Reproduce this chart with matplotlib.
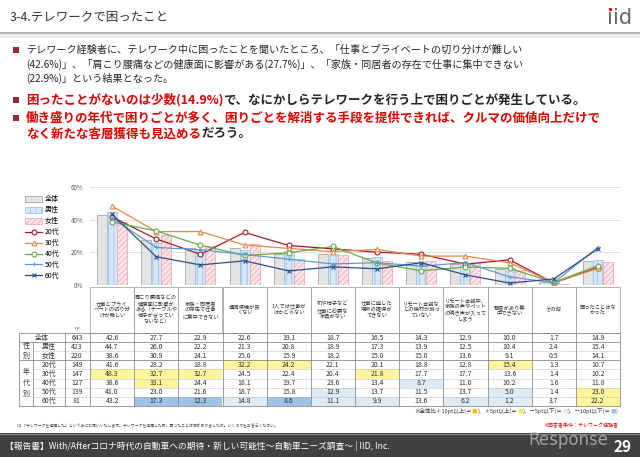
import matplotlib
matplotlib.use('Agg')
import matplotlib.pyplot as plt
from matplotlib.patches import Rectangle
import numpy as np

plt.rcParams['font.family'] = ['Noto Sans CJK JP', 'DejaVu Sans']
plt.rcParams['hatch.linewidth'] = 0.6

# ---- data ----
categories = [
    '仕事とプライ\nベートの切り分\nけが難しい',
    '肩こり腰痛などの\n健康面に影響が\nある（テーブルや\n椅子が合ってい\nないなど）',
    '家族・同居者\nの存在で仕事\nに集中できない',
    '通信環境が良\nくない',
    '1人では仕事が\nはかどらない',
    '机や椅子など\n仕事に必要な\n家具がない',
    '仕事に適した\n場所の確保が\nできない',
    'リモート会議な\nどの機材が揃っ\nていない',
    'リモート会議中、\n家族の声やペット\nの鳴き声が入って\nしまう',
    '騒音があり集\n中できない',
    'その他',
    '困ったことはな\nかった',
]
row_labels = ['全体', '男性', '女性', '20代', '30代', '40代', '50代', '60代']
n_values = [643, 423, 220, 149, 147, 127, 139, 81]

total = [42.6, 27.7, 22.9, 22.6, 19.1, 18.7, 16.5, 14.3, 12.9, 10.0, 1.7, 14.9]
male = [44.7, 26.0, 22.2, 21.3, 20.8, 18.9, 17.3, 13.9, 12.5, 10.4, 2.4, 15.4]
female = [38.6, 30.9, 24.1, 25.0, 15.9, 18.2, 15.0, 15.0, 13.6, 9.1, 0.5, 14.1]
age20 = [41.6, 28.2, 18.8, 32.2, 24.2, 22.1, 20.1, 18.8, 12.8, 15.4, 1.3, 10.7]
age30 = [48.3, 32.7, 32.7, 24.5, 22.4, 20.4, 21.8, 17.7, 17.7, 13.6, 1.4, 10.2]
age40 = [38.6, 33.1, 24.4, 18.1, 19.7, 23.6, 13.4, 8.7, 11.0, 10.2, 1.6, 11.8]
age50 = [41.0, 23.0, 21.6, 18.7, 15.8, 12.9, 13.7, 11.5, 13.7, 5.0, 1.4, 23.0]
age60 = [43.2, 17.3, 12.3, 14.8, 8.6, 11.1, 9.9, 13.6, 6.2, 1.2, 3.7, 22.2]

rows = [total, male, female, age20, age30, age40, age50, age60]

RED = '#e00000'
W, H = 640, 457

fig = plt.figure(figsize=(6.4, 4.57), dpi=100)
fig.patch.set_facecolor('white')
canvas = fig.add_axes([0, 0, 1, 1])
canvas.set_xlim(0, W)
canvas.set_ylim(H, 0)
canvas.axis('off')
renderer = fig.canvas.get_renderer()


def runs(parts, x, y, size, weight='normal', ha='left', family=None):
    # draw coloured text pieces one after another on a line
    texts = []
    for s, c in parts:
        kw = {} if family is None else {'family': family}
        t = canvas.text(0, y, s, fontsize=size, color=c, fontweight=weight,
                        va='center', ha='left', **kw)
        texts.append(t)
    widths = [t.get_window_extent(renderer).width for t in texts]
    if ha == 'right':
        x -= sum(widths)
    for t, w in zip(texts, widths):
        t.set_x(x)
        x += w
    return texts


# ---- header ----
canvas.text(10, 17, '3-4.テレワークで困ったこと', fontsize=9, color='#333333',
            va='center')
canvas.add_patch(Rectangle((0, 33.5), W, 4, color='#ececec', lw=0))
canvas.plot([0, W], [33, 33], color='#a6a6a6', lw=1.2)
logo = runs([('ı', '#666666'), ('id', '#666666')], 632, 18, 15, ha='right',
            family='DejaVu Sans')
bb = logo[0].get_window_extent(renderer)
canvas.plot(logo[0].get_position()[0] + bb.width / 2, 8.5, 'o', ms=2.4,
            color='#e00000', mew=0)

# ---- bullets ----
dark = '#262626'
for by in [50, 100, 118]:
    canvas.add_patch(Rectangle((13, by - 3), 6, 6, color='#9b2335', lw=0))

runs([('テレワーク経験者に、テレワーク中に困ったことを聞いたところ、「仕事とプライベートの切り分けが難しい', dark)],
     26, 50, 7.3)
runs([('(42.6%)」、「肩こり腰痛などの健康面に影響がある(27.7%)」、「家族・同居者の存在で仕事に集中できない', dark)],
     26, 64, 7.3)
runs([('(22.9%)」という結果となった。', dark)], 26, 78, 7.3)
runs([('困ったことがないのは少数(14.9%)', RED),
      ('で、なにかしらテレワークを行う上で困りごとが発生している。', dark)],
     26, 100, 9, weight='bold')
runs([('働き盛りの年代で困りごとが多く、困りごとを解消する手段を提供できれば、クルマの価値向上だけで', RED)],
     26, 118, 9, weight='bold')
runs([('なく新たな客層獲得も見込める', RED), ('だろう。', dark)],
     26, 134, 9, weight='bold')

# ---- chart ----
left, right, top, bottom = 90, 620, 187, 285
ax = fig.add_axes([left / W, 1 - bottom / H, (right - left) / W, (bottom - top) / H])
ax.patch.set_alpha(0)
x = np.arange(len(categories))
bw = 0.226
b1 = ax.bar(x - bw, total, bw, color='#e3e3e3', edgecolor='#a6a6a6', lw=0.6, label='全体')
b2 = ax.bar(x, male, bw, color='#d6e7f7', edgecolor='#9dc3e6', lw=0.6,
            hatch='|||', label='男性')
b3 = ax.bar(x + bw, female, bw, color='#fde6ea', edgecolor='#f4a9b6', lw=0.6,
            hatch='//////', label='女性')

line_styles = [
    ('20代', age20, '#a5182b', 'o'),
    ('30代', age30, '#e5884b', '^'),
    ('40代', age40, '#6aaa45', 'o'),
    ('50代', age50, '#5b9bd5', '+'),
    ('60代', age60, '#2e4d8a', 'x'),
]
handles = [b1, b2, b3]
for name, vals, col, mk in line_styles:
    mfc = 'white' if mk in ('o', '^') else col
    ln, = ax.plot(x, vals, color=col, lw=0.9, marker=mk, ms=3.5, mfc=mfc, mew=0.8,
                  label=name)
    handles.append(ln)

ax.set_xlim(-0.5, len(categories) - 0.5)
ax.set_ylim(0, 60)
ax.set_yticks([0, 20, 40, 60])
ax.set_yticklabels(['0%', '20%', '40%', '60%'], fontsize=4.5, color='#595959')
ax.tick_params(length=0, pad=5)
ax.set_xticks([])
ax.grid(axis='y', color='#d9d9d9', lw=0.6)
ax.set_axisbelow(True)
for s in ax.spines.values():
    s.set_visible(False)

ax.legend(handles=handles, loc='upper left', bbox_to_anchor=(22 / W, 1 - 192 / H),
          bbox_transform=fig.transFigure, frameon=False, fontsize=5,
          handlelength=2.4, handleheight=0.8, labelspacing=0.42, borderpad=0,
          handletextpad=0.4)

# ---- table ----
colw = (right - left) / len(categories)
line_c = '#8c8c8c'
for i, cat in enumerate(categories):
    xl = left + i * colw
    canvas.add_patch(Rectangle((xl, 287), colw, 46, fill=False, ec='#a6a6a6', lw=0.6))
    canvas.text(xl + colw / 2, 310, cat, fontsize=3.8, color='#333333',
                ha='center', va='center', linespacing=1.15)
canvas.text(77, 329, 'n=', fontsize=3.5, color='#595959', ha='center', va='center')

t0, rh = 333, 9.1
tl = 19
hl_colors = {'up10': '#ffc000', 'up5': '#fff59d', 'dn5': '#ddebf7', 'dn10': '#9dc3e6'}
for r, vals in enumerate(rows):
    y0 = t0 + r * rh
    cy = y0 + rh / 2
    lx = 42 if r == 0 else 49
    canvas.text(lx, cy, row_labels[r], fontsize=5, color='#333333', ha='center', va='center')
    canvas.text(77, cy, str(n_values[r]), fontsize=5, color='#333333', ha='center', va='center')
    for c, v in enumerate(vals):
        xl = left + c * colw
        if r > 0:
            d = round(v - total[c], 1)
            fc = None
            if d >= 10:
                fc = hl_colors['up10']
            elif d >= 5:
                fc = hl_colors['up5']
            elif d <= -10:
                fc = hl_colors['dn10']
            elif d <= -5:
                fc = hl_colors['dn5']
            if fc:
                canvas.add_patch(Rectangle((xl, y0), colw, rh, color=fc, lw=0))
        canvas.text(xl + colw / 2, cy, f'{v:.1f}', fontsize=5, color='#333333',
                    ha='center', va='center')

tb = t0 + len(rows) * rh
for k in [0, 1, 3, 8]:
    canvas.plot([tl, right], [t0 + k * rh] * 2, color=line_c, lw=0.6)
for k in [2, 4, 5, 6, 7]:
    canvas.plot([33, right], [t0 + k * rh] * 2, color='#a6a6a6', lw=0.5, ls=(0, (1, 1)))
canvas.plot([tl, tl], [t0, tb], color=line_c, lw=0.6)
canvas.plot([33, 33], [t0 + rh, tb], color=line_c, lw=0.6)
canvas.plot([65, 65], [t0, tb], color=line_c, lw=0.6)
for i in range(len(categories) + 1):
    xl = left + i * colw
    canvas.plot([xl, xl], [t0, tb], color=line_c, lw=0.6)
canvas.text(26, t0 + 2 * rh, '性\n別', fontsize=5, color='#333333', ha='center',
            va='center', linespacing=1.3)
canvas.text(26, t0 + 5.5 * rh, '年\n代\n別', fontsize=5, color='#333333', ha='center',
            va='center', linespacing=1.45)

# ---- notes ----
runs([('※全体比＋10pt以上(＝', '#333333'), ('■', hl_colors['up10']),
      (')、＋5pt以上(＝', '#333333'), ('■', '#ffe94d'),
      (')、－5pt以下(＝', '#333333'), ('■', hl_colors['dn5']),
      (')、－10pt以下(＝', '#333333'), ('■', hl_colors['dn10']), (')', '#333333')],
     618, 411, 4, ha='right')
canvas.text(17, 426, 'Q4.「テレワークを経験した」という方にお伺いいたします。テレワークを経験した際、困ったことは何がありましたか。いくつでもお答えください。',
            fontsize=2.8, color='#404040', va='center')
canvas.text(618, 426, '※回答者条件：テレワーク経験者', fontsize=3.6, color=RED,
            ha='right', va='center')

# ---- footer ----
canvas.add_patch(Rectangle((0, 433), W, H - 433, color='#414141', lw=0))
canvas.plot([0, W], [433.5, 433.5], color='#8a8a8a', lw=0.8)
canvas.text(528, 440, 'Response', fontsize=12, color='#c8c8c8', alpha=0.7,
            family='DejaVu Sans', va='center', ha='left')
canvas.text(5, 446, '【報告書】With/Afterコロナ時代の自動車への期待・新しい可能性～自動車ニーズ調査～ | IID, Inc.',
            fontsize=6.3, color='white', va='center')
canvas.text(632, 447, '29', fontsize=11, color='white', fontweight='bold',
            ha='right', va='center')

fig.savefig('out.png', dpi=100)
